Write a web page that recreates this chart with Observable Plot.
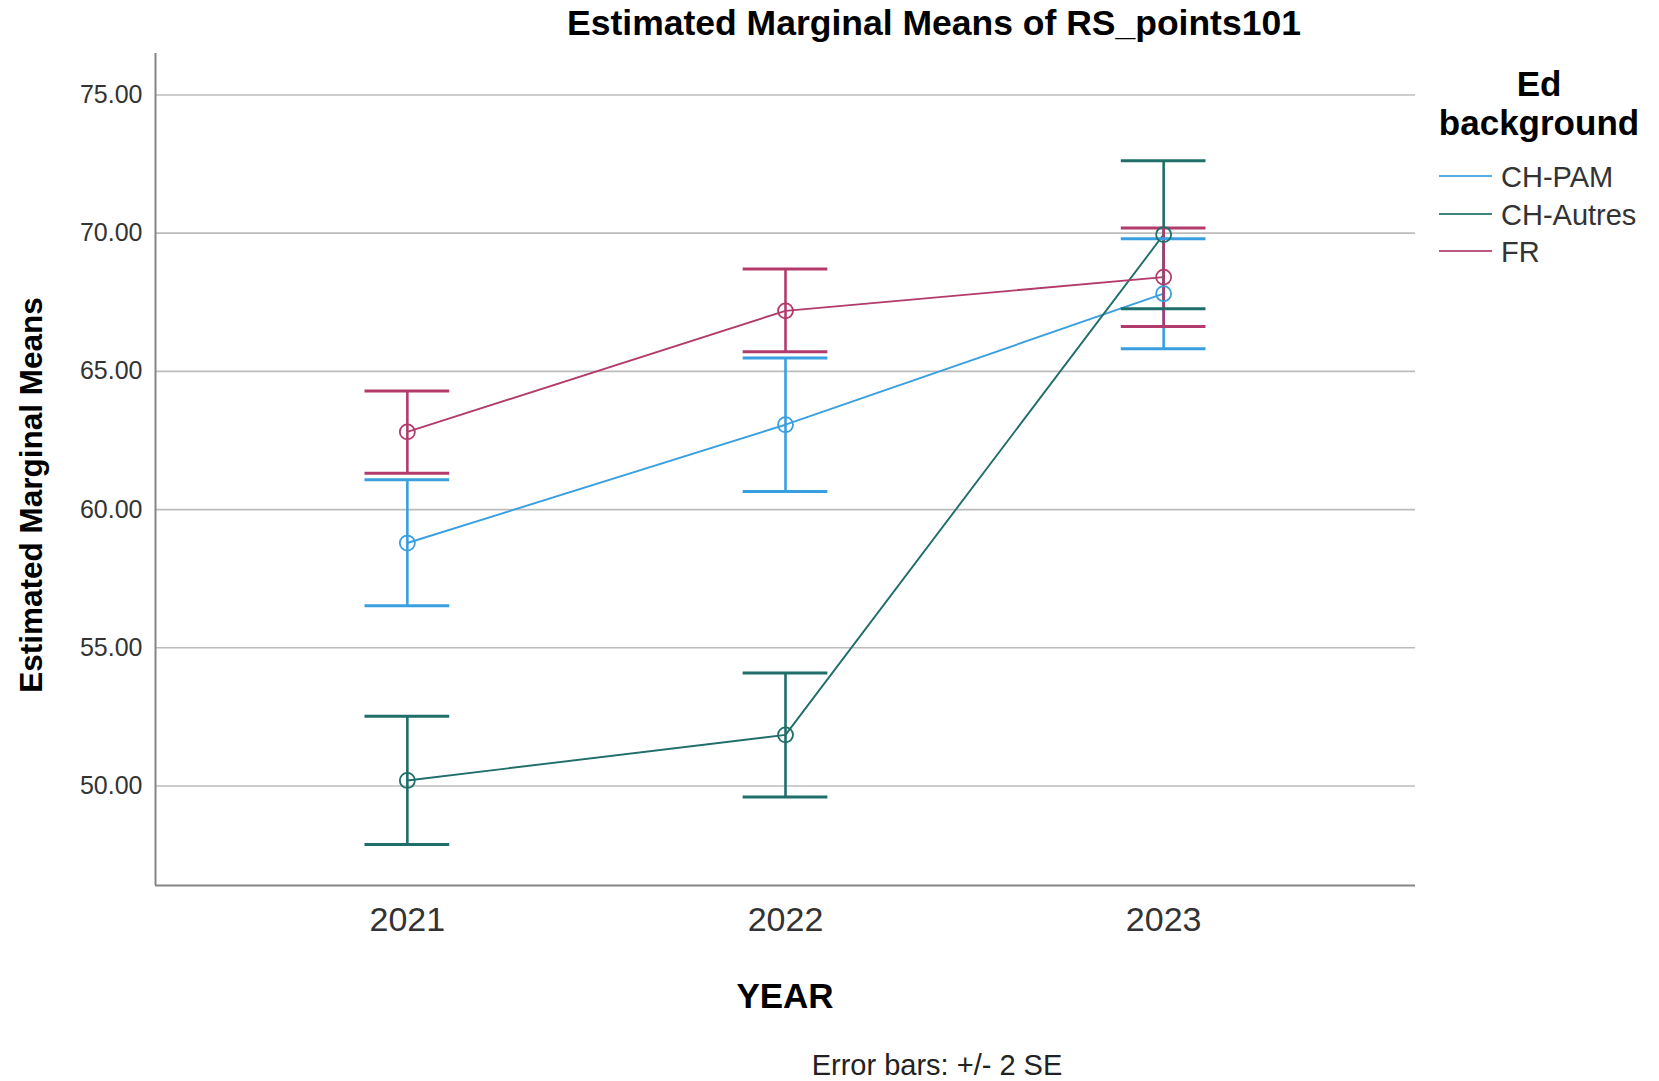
<!DOCTYPE html>
<html>
<head>
<meta charset="utf-8">
<script src="https://cdn.jsdelivr.net/npm/d3@7"></script>
<script src="https://cdn.jsdelivr.net/npm/@observablehq/plot@0.6"></script>
<style>
  html, body { margin: 0; padding: 0; background: #fff; }
  #chart { width: 1659px; height: 1081px; }
</style>
</head>
<body>
<div id="chart"></div>
<script>
// ---- data ----
const years = [2021, 2022, 2023];
const groups = ["CH-PAM", "CH-Autres", "FR"];
const colors = ["#3a9fe0", "#1f6e69", "#b23b6c"];
const meanCHPAM = [58.79, 63.07, 67.81];
const meanCHAutres = [50.20, 51.85, 69.95];
const meanFR = [62.81, 67.19, 68.41];
const lowCHPAM = [56.52, 60.65, 65.82];
const lowCHAutres = [47.88, 49.60, 67.27];
const lowFR = [61.31, 65.71, 66.62];
const highCHPAM = [61.08, 65.48, 69.80];
const highCHAutres = [52.52, 54.09, 72.62];
const highFR = [64.29, 68.70, 70.19];
const yTicks = [50, 55, 60, 65, 70, 75];

const means = [meanCHPAM, meanCHAutres, meanFR];
const lows = [lowCHPAM, lowCHAutres, lowFR];
const highs = [highCHPAM, highCHAutres, highFR];

const data = [];
groups.forEach((g, gi) => {
  years.forEach((yr, yi) => {
    data.push({group: g, year: yr, mean: means[gi][yi], lo: lows[gi][yi], hi: highs[gi][yi]});
  });
});

// ---- scales / style ----
const xDomain = [2020.334, 2023.666];
const yDomain = [46.4, 76.5];
const capHalf = 0.112;
const font = "'Liberation Sans', Arial, sans-serif";

const plot = Plot.plot({
  width: 1659,
  height: 1081,
  marginLeft: 155,
  marginRight: 244,
  marginTop: 53,
  marginBottom: 196,
  style: {fontFamily: font, background: "#fff", overflow: "visible"},
  x: {type: "linear", domain: xDomain, axis: null},
  y: {domain: yDomain, axis: null},
  color: {domain: groups, range: colors},
  marks: [
    Plot.ruleY(yTicks, {stroke: "#bcbcbc", strokeWidth: 1.6}),
    Plot.ruleX([xDomain[0]], {stroke: "#858585", strokeWidth: 2}),
    Plot.ruleY([yDomain[0]], {stroke: "#858585", strokeWidth: 2}),
    Plot.text(yTicks, {y: d => d, text: d => d.toFixed(2), frameAnchor: "left", textAnchor: "end", dx: -13, fontSize: 25, fill: "#333"}),
    Plot.text(years, {x: d => d, text: d => String(d), frameAnchor: "bottom", lineAnchor: "bottom", dy: 45, fontSize: 34, fill: "#333"}),
    Plot.line(data, {x: "year", y: "mean", z: "group", stroke: "group", strokeWidth: 1.9}),
    Plot.ruleX(data, {x: "year", y1: "lo", y2: "hi", stroke: "group", strokeWidth: 2.6}),
    Plot.ruleY(data, {y: "hi", x1: d => d.year - capHalf, x2: d => d.year + capHalf, stroke: "group", strokeWidth: 3}),
    Plot.ruleY(data, {y: "lo", x1: d => d.year - capHalf, x2: d => d.year + capHalf, stroke: "group", strokeWidth: 3}),
    Plot.dot(data, {x: "year", y: "mean", stroke: "group", r: 7.5, strokeWidth: 1.8, fill: "none"})
  ]
});

document.getElementById("chart").appendChild(plot);

const svg = d3.select(plot);
function addText(x, y, str, size, weight, anchor, extra) {
  const t = svg.append("text")
    .attr("x", x).attr("y", y)
    .attr("font-family", font)
    .attr("font-size", size)
    .attr("font-weight", weight)
    .attr("text-anchor", anchor)
    .attr("fill", "#000")
    .text(str);
  if (extra) extra(t);
  return t;
}
addText(934, 35, "Estimated Marginal Means of RS_points101", 35.5, "bold", "middle");
addText(0, 0, "Estimated Marginal Means", 31.5, "bold", "middle", t => t.attr("transform", "translate(42,495) rotate(-90)"));
addText(785, 1008, "YEAR", 35, "bold", "middle");
addText(937, 1075, "Error bars: +/- 2 SE", 29, "normal", "middle", t => t.attr("fill", "#222"));
addText(1539, 96, "Ed", 35, "bold", "middle");
addText(1539, 135, "background", 35, "bold", "middle");

const colorScale = plot.scale("color");
const legendY = [176, 214, 251];
groups.forEach((g, i) => {
  svg.append("line")
    .attr("x1", 1439).attr("x2", 1492)
    .attr("y1", legendY[i]).attr("y2", legendY[i])
    .attr("stroke", colorScale.apply(g))
    .attr("stroke-opacity", 0.85)
    .attr("stroke-width", 2.2);
  addText(1501, legendY[i] + 11, g, 29, "normal", "start", t => t.attr("fill", "#333"));
});
</script>
</body>
</html>
